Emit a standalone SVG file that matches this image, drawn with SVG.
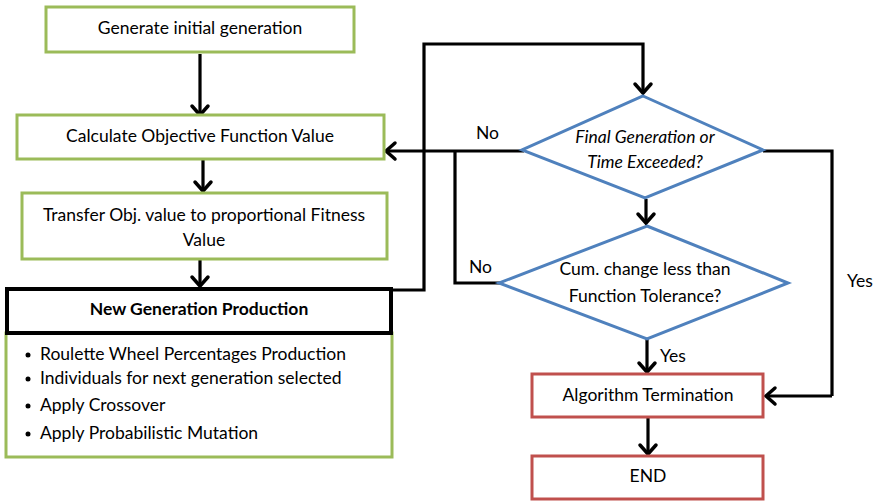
<svg xmlns="http://www.w3.org/2000/svg" width="874" height="501" viewBox="0 0 874 501">
<defs>
<marker id="arr" markerUnits="userSpaceOnUse" markerWidth="24" markerHeight="24" refX="12" refY="12" orient="auto" viewBox="0 0 24 24">
<path d="M3,4 L12,12 L3,20" fill="none" stroke="#000" stroke-width="3.5" stroke-linecap="round" stroke-linejoin="miter"/>
</marker>
<style>
.g{fill:#fff;stroke:#9bbb59;stroke-width:3}
.r{fill:#fff;stroke:#c0504d;stroke-width:3}
.k{fill:#fff;stroke:#000;stroke-width:4}
.d{fill:#fff;stroke:#4f81bd;stroke-width:3}
.c{fill:none;stroke:#000;stroke-width:3.2;stroke-linejoin:miter}
.a{marker-end:url(#arr)}
text{font-family:Lato,"Liberation Sans",Arial,sans-serif;font-size:17.5px;fill:#000}
.m{text-anchor:middle}
.b{font-weight:bold;font-size:17.5px}
.i{font-style:italic}
</style>
</defs>
<rect width="874" height="501" fill="#fff"/>

<g id="connectors">
<path class="c a" d="M200,54 V115"/>
<path class="c a" d="M203,160 V191"/>
<path class="c a" d="M200,260 V286"/>
<path class="c a" d="M392,290 H424 V44 H643 V93"/>
<path class="c a" d="M524,151 H386"/>
<path class="c" d="M500,283 H455 V151"/>
<path class="c a" d="M646,199 V223"/>
<path class="c" d="M763,151 H832 V396"/>
<path class="c a" d="M832,396 H766"/>
<path class="c a" d="M647,339 V372"/>
<path class="c a" d="M648,418 V454"/>
</g>

<g id="n1"><rect class="g" x="46" y="7" width="308" height="45"/><text class="m" x="200" y="34">Generate initial generation</text></g>
<g id="n2"><rect class="g" x="17" y="115" width="367" height="44"/><text class="m" x="200" y="142">Calculate Objective Function Value</text></g>
<g id="n3"><rect class="g" x="22" y="193" width="365" height="66"/><text class="m" x="204" y="221">Transfer Obj. value to proportional Fitness</text><text class="m" x="204" y="246">Value</text></g>
<g id="n4">
<rect class="g" x="6" y="333" width="386" height="124"/>
<rect class="k" x="7" y="289" width="384" height="44"/>
<text class="m b" x="199" y="315">New Generation Production</text>
<circle cx="28" cy="355" r="2.5"/><text x="40" y="360">Roulette Wheel Percentages Production</text>
<circle cx="28" cy="379" r="2.5"/><text x="40" y="384">Individuals for next generation selected</text>
<circle cx="28" cy="406" r="2.5"/><text x="40" y="411">Apply Crossover</text>
<circle cx="28" cy="434" r="2.5"/><text x="40" y="439">Apply Probabilistic Mutation</text>
</g>
<g id="d1"><polygon class="d" points="643,96 763,150 645,198 522,150"/><text class="m i" x="645" y="143">Final Generation or</text><text class="m i" x="645" y="168">Time Exceeded?</text></g>
<g id="d2"><polygon class="d" points="647,226 788,283 647,339 499,283"/><text class="m" x="645" y="275">Cum. change less than</text><text class="m" x="645" y="302">Function Tolerance?</text></g>
<g id="n5"><rect class="r" x="532" y="374" width="231" height="43"/><text class="m" x="648" y="401">Algorithm Termination</text></g>
<g id="n6"><rect class="r" x="532" y="456" width="231" height="43"/><text class="m" x="648" y="482">END</text></g>

<g id="labels">
<text x="476" y="139">No</text>
<text x="469" y="273">No</text>
<text x="847" y="287">Yes</text>
<text x="660" y="362">Yes</text>
</g>
</svg>
